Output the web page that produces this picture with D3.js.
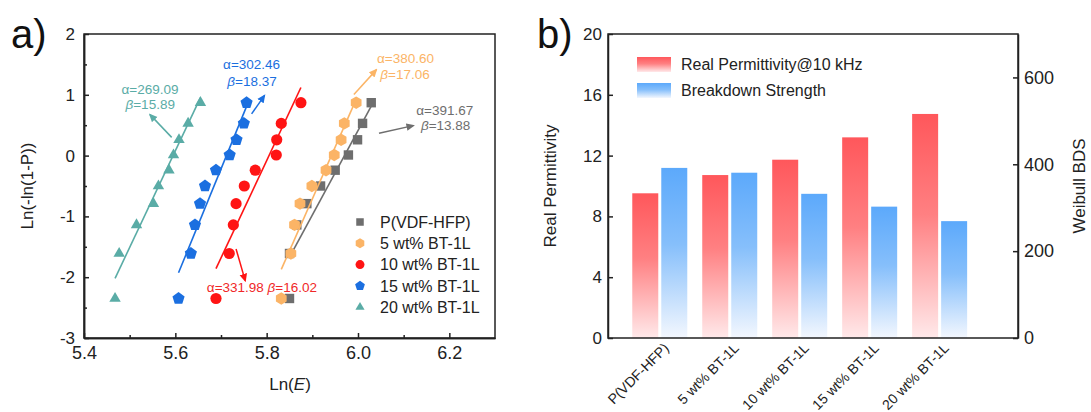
<!DOCTYPE html>
<html lang="en">
<head>
<meta charset="UTF-8">
<title>Weibull BDS and permittivity</title>
<style>
  body { margin: 0; background: #fff; }
  svg { display: block; font-family: Arial, "Liberation Sans", sans-serif; }
  .axis path, .axis line { stroke: #222; stroke-width: 1.5px; }
  .axis text { fill: #222; }
  .frame { fill: none; stroke: #222; stroke-width: 1.5px; }
</style>
</head>
<body>
<script src="https://d3js.org/d3.v7.min.js"></script>
<script>
// ---- data ----
var samples = ["P(VDF-HFP)", "5 wt% BT-1L", "10 wt% BT-1L", "15 wt% BT-1L", "20 wt% BT-1L"];
var colors = ["#6e6e6e", "#fbb466", "#ff1414", "#1b6fe0", "#5aaca6"];
var shapes = ["square", "hexagon", "circle", "pentagon", "triangle"];

// Weibull rank values, ln(-ln(1-P)), same for every sample
var lnP = [-2.35, -1.61, -1.14, -0.79, -0.50, -0.24, 0.01, 0.26, 0.53, 0.87];
// ln(E) of each sample
var lnE_pure = [5.850, 5.850, 5.866, 5.888, 5.918, 5.950, 5.979, 5.999, 6.010, 6.029];
var lnE_5 = [5.832, 5.853, 5.861, 5.873, 5.899, 5.930, 5.948, 5.963, 5.970, 5.996];
var lnE_10 = [5.689, 5.718, 5.727, 5.733, 5.751, 5.775, 5.821, 5.822, 5.832, 5.875];
var lnE_15 = [5.607, 5.634, 5.643, 5.654, 5.665, 5.689, 5.719, 5.734, 5.750, 5.756];
var lnE_20 = [5.468, 5.477, 5.515, 5.552, 5.563, 5.586, 5.596, 5.608, 5.628, 5.655];
var lnE = [lnE_pure, lnE_5, lnE_10, lnE_15, lnE_20];

var alpha = [391.67, 380.60, 331.98, 302.46, 269.09];
var beta = [13.88, 17.06, 16.02, 18.37, 15.89];

// annotation text anchors and arrows, in data units [lnE, lnP]
var labelAlpha = [[6.19, 0.674], [6.104, 1.53], null, [5.767, 1.431], [5.5446, 1.02]];
var labelBeta = [[6.192, 0.428], [6.103, 1.266], null, [5.768, 1.151], [5.545, 0.773]];
var labelRed = [5.669, -2.237];
var arrows = [
  [[6.046, 0.367], [6.121, 0.493]],
  [[5.991, 1.003], [6.040, 1.41]],
  [[5.733, -1.535], [5.753, -2.056]],
  [[5.767, 0.686], [5.795, 0.987]],
  [[5.592, 0.30], [5.5446, 0.674]]
];

var xTicksA = [5.4, 5.6, 5.8, 6.0, 6.2];
var xMinorA = [5.5, 5.7, 5.9, 6.1];
var yTicksA = [-3, -2, -1, 0, 1, 2];
var yMinorA = [-2.5, -1.5, -0.5, 0.5, 1.5];

// panel b
var permittivity = [9.52, 10.72, 11.73, 13.2, 14.74];
var bds = [391.67, 380.60, 331.98, 302.46, 269.09];
var yTicksB = [0, 4, 8, 12, 16, 20];
var y2TicksB = [0, 200, 400, 600];

// ---- svg ----
var svg = d3.select("body").append("svg")
    .attr("width", 1091)
    .attr("height", 412);

var defs = svg.append("defs");

function grad(id, top, mid, bottom) {
  var g = defs.append("linearGradient").attr("id", id)
      .attr("x1", 0).attr("y1", 0).attr("x2", 0).attr("y2", 1);
  g.append("stop").attr("offset", "0%").attr("stop-color", top);
  g.append("stop").attr("offset", "45%").attr("stop-color", mid);
  g.append("stop").attr("offset", "100%").attr("stop-color", bottom);
}
grad("redGrad", "#ff575b", "#ff8082", "#ffe9ea");
grad("blueGrad", "#5ca9fb", "#86bffb", "#f3f7fe");

colors.forEach(function(c, i) {
  defs.append("marker")
      .attr("id", "arrow" + i)
      .attr("viewBox", "0 0 10 10")
      .attr("refX", 8).attr("refY", 5)
      .attr("markerWidth", 8.5).attr("markerHeight", 8.5)
      .attr("markerUnits", "userSpaceOnUse")
      .attr("orient", "auto")
    .append("path")
      .attr("d", "M0,0.5 L10,5 L0,9.5 z")
      .attr("fill", c);
});

function polygon(n, r, rot) {
  var pts = d3.range(n).map(function(k) {
    var a = rot + k * 2 * Math.PI / n;
    return [r * Math.sin(a), -r * Math.cos(a)];
  });
  return "M" + pts.join("L") + "Z";
}
function symbolPath(shape, s) {
  if (shape === "square") return "M" + (-4.7 * s) + "," + (-4.7 * s) + "h" + (9.4 * s) + "v" + (9.4 * s) + "h" + (-9.4 * s) + "Z";
  if (shape === "circle") return d3.symbol(d3.symbolCircle, Math.PI * 5.6 * 5.6 * s * s)();
  if (shape === "hexagon") return polygon(6, 6.2 * s, 0);
  if (shape === "pentagon") return polygon(5, 6.4 * s, 0);
  return polygon(3, 6.6 * s, 0);
}

// ---- panel a ----
var xa = d3.scaleLinear().domain([5.4, 6.3]).range([84, 495]);
var ya = d3.scaleLinear().domain([-3, 2]).range([338, 34]);

var ga = svg.append("g");

ga.append("g").attr("class", "axis")
    .attr("transform", "translate(0,338)")
    .call(d3.axisBottom(xa).tickValues(xTicksA).tickFormat(d3.format(".1f"))
      .tickSizeInner(-5).tickSizeOuter(0).tickPadding(8))
    .call(function(g) { g.selectAll("text").style("font-size", "18px"); });
ga.append("g").attr("class", "axis")
    .attr("transform", "translate(0,338)")
    .call(d3.axisBottom(xa).tickValues(xMinorA).tickFormat("").tickSizeInner(-3).tickSizeOuter(0));

ga.append("g").attr("class", "axis")
    .attr("transform", "translate(84,0)")
    .call(d3.axisLeft(ya).tickValues(yTicksA).tickFormat(function(d) { return String(d); })
      .tickSizeInner(-5).tickSizeOuter(0).tickPadding(9))
    .call(function(g) { g.selectAll("text").style("font-size", "17px"); });
ga.append("g").attr("class", "axis")
    .attr("transform", "translate(84,0)")
    .call(d3.axisLeft(ya).tickValues(yMinorA).tickFormat("").tickSizeInner(-3).tickSizeOuter(0));

ga.append("rect").attr("class", "frame")
    .attr("x", 84).attr("y", 34).attr("width", 495 - 84).attr("height", 338 - 34);

// fit lines: ln(-ln(1-P)) = beta * (lnE - ln(alpha)) over the data range
samples.forEach(function(name, i) {
  var ext = d3.extent(lnE[i]);
  var fit = ext.map(function(x) { return [x, beta[i] * (x - Math.log(alpha[i]))]; });
  ga.append("path")
      .attr("d", d3.line().x(function(d) { return xa(d[0]); }).y(function(d) { return ya(d[1]); })(fit))
      .attr("fill", "none")
      .attr("stroke", colors[i])
      .attr("stroke-width", 1.6);

  ga.append("g").selectAll("path")
      .data(lnE[i].map(function(x, k) { return [x, lnP[k]]; }))
      .join("path")
      .attr("transform", function(d) { return "translate(" + xa(d[0]) + "," + ya(d[1]) + ")"; })
      .attr("d", symbolPath(shapes[i], 1))
      .attr("fill", colors[i]);
});

// annotations
samples.forEach(function(name, i) {
  var a = arrows[i];
  ga.append("line")
      .attr("x1", xa(a[0][0])).attr("y1", ya(a[0][1]))
      .attr("x2", xa(a[1][0])).attr("y2", ya(a[1][1]))
      .attr("stroke", colors[i])
      .attr("stroke-width", 1.5)
      .attr("marker-end", "url(#arrow" + i + ")");
  if (labelAlpha[i]) {
    ga.append("text")
        .attr("x", xa(labelAlpha[i][0])).attr("y", ya(labelAlpha[i][1]))
        .attr("text-anchor", "middle").attr("fill", colors[i]).style("font-size", "13.5px")
        .text("\u03b1=" + alpha[i].toFixed(2));
    var tb = ga.append("text")
        .attr("x", xa(labelBeta[i][0])).attr("y", ya(labelBeta[i][1]))
        .attr("text-anchor", "middle").attr("fill", colors[i]).style("font-size", "13.5px");
    tb.append("tspan").style("font-style", "italic").text("\u03b2");
    tb.append("tspan").text("=" + beta[i].toFixed(2));
  }
});
var tr = ga.append("text")
    .attr("x", xa(labelRed[0])).attr("y", ya(labelRed[1]))
    .attr("fill", "#f02828").style("font-size", "13.5px");
tr.append("tspan").text("\u03b1=" + alpha[2].toFixed(2) + " ");
tr.append("tspan").style("font-style", "italic").text("\u03b2");
tr.append("tspan").text("=" + beta[2].toFixed(2));

// legend a
var lega = ga.append("g").attr("transform", "translate(360,222)");
samples.forEach(function(name, i) {
  var row = lega.append("g").attr("transform", "translate(0," + (i * 21.3) + ")");
  row.append("path").attr("d", symbolPath(shapes[i], 0.8)).attr("fill", colors[i]);
  row.append("text").attr("x", 20).attr("dy", "0.36em")
      .style("font-size", "16px").attr("fill", "#222").text(name);
});

// axis titles a
svg.append("text")
    .attr("transform", "translate(33,186) rotate(-90)")
    .attr("text-anchor", "middle").style("font-size", "17px").attr("fill", "#222")
    .text("Ln(-ln(1-P))");
var xt = svg.append("text")
    .attr("x", 290).attr("y", 390)
    .attr("text-anchor", "middle").style("font-size", "17px").attr("fill", "#222");
xt.append("tspan").text("Ln(");
xt.append("tspan").style("font-style", "italic").text("E");
xt.append("tspan").text(")");

svg.append("text").attr("x", 11).attr("y", 48).style("font-size", "40px").attr("fill", "#111").text("a)");

// ---- panel b ----
var xb = d3.scaleLinear().domain([0.26, 6.12]).range([608, 1018]);
var yb = d3.scaleLinear().domain([0, 20]).range([338, 34]);
var yb2 = d3.scaleLinear().domain([0, 700]).range([338, 34]);
var barW = 26;

var gb = svg.append("g");

gb.selectAll("rect.perm")
    .data(permittivity)
    .join("rect")
    .attr("class", "perm")
    .attr("x", function(d, i) { return xb(i + 1) - barW - 1.5; })
    .attr("y", function(d) { return yb(d); })
    .attr("width", barW)
    .attr("height", function(d) { return yb(0) - yb(d); })
    .attr("fill", "url(#redGrad)");

gb.selectAll("rect.bds")
    .data(bds)
    .join("rect")
    .attr("class", "bds")
    .attr("x", function(d, i) { return xb(i + 1) + 1.5; })
    .attr("y", function(d) { return yb2(d); })
    .attr("width", barW)
    .attr("height", function(d) { return yb2(0) - yb2(d); })
    .attr("fill", "url(#blueGrad)");

gb.append("g").attr("class", "axis")
    .attr("transform", "translate(608,0)")
    .call(d3.axisLeft(yb).tickValues(yTicksB).tickSizeInner(-5).tickSizeOuter(0).tickPadding(6))
    .call(function(g) { g.selectAll("text").style("font-size", "17px"); });
gb.append("g").attr("class", "axis")
    .attr("transform", "translate(1018,0)")
    .call(d3.axisRight(yb2).tickValues(y2TicksB).tickSizeInner(-5).tickSizeOuter(0).tickPadding(6))
    .call(function(g) { g.selectAll("text").style("font-size", "18px"); });

gb.append("rect").attr("class", "frame")
    .attr("x", 608).attr("y", 34).attr("width", 1018 - 608).attr("height", 338 - 34);

gb.selectAll("text.cat")
    .data(samples)
    .join("text")
    .attr("class", "cat")
    .attr("transform", function(d, i) { return "translate(" + (xb(i + 1) + 10) + ",349) rotate(-45)"; })
    .attr("text-anchor", "end")
    .style("font-size", "14px")
    .attr("fill", "#222")
    .text(function(d) { return d; });

// legend b
var legb = gb.append("g").attr("transform", "translate(637,57)");
[["redGrad", "Real Permittivity@10 kHz"], ["blueGrad", "Breakdown Strength"]].forEach(function(it, i) {
  var row = legb.append("g").attr("transform", "translate(0," + (i * 26) + ")");
  row.append("rect").attr("width", 34).attr("height", 15).attr("fill", "url(#" + it[0] + ")");
  row.append("text").attr("x", 44).attr("y", 7.5).attr("dy", "0.36em")
      .style("font-size", "16px").attr("fill", "#222").text(it[1]);
});

svg.append("text")
    .attr("transform", "translate(556,186) rotate(-90)")
    .attr("text-anchor", "middle").style("font-size", "17px").attr("fill", "#222")
    .text("Real Permittivity");
svg.append("text")
    .attr("transform", "translate(1085,186) rotate(-90)")
    .attr("text-anchor", "middle").style("font-size", "17px").attr("fill", "#222")
    .text("Weibull BDS");

svg.append("text").attr("x", 537).attr("y", 48).style("font-size", "40px").attr("fill", "#111").text("b)");
</script>
</body>
</html>
